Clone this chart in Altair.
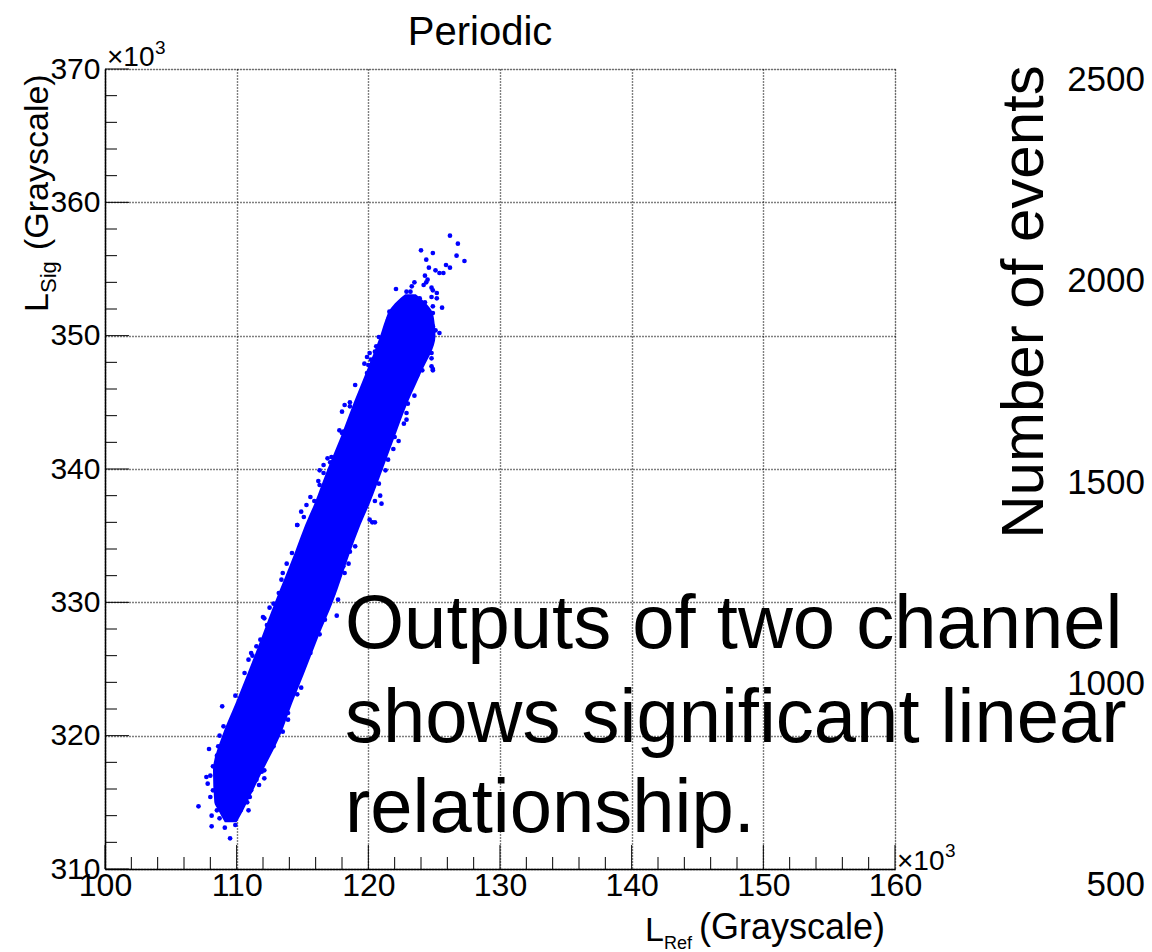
import altair as alt
import pandas as pd

# ---------------- data (values in units of 10^3) ----------------
# dense core of the scatter cloud: for each L_Sig level, the left/right L_Ref edge
band_sig = [313.5, 314.4, 315.0, 317.4, 320.0, 322.4, 324.6, 327.4, 330.0, 333.7, 335.8,
            337.4, 340.0, 342.4, 345.0, 347.2, 350.0, 351.2, 351.9, 352.6, 353.1]
band_left = [109.1, 108.6, 108.3, 108.2, 108.9, 109.9, 110.8, 111.9, 112.9, 114.4, 115.2,
             115.9, 116.9, 117.9, 118.9, 119.8, 120.9, 121.3, 121.6, 122.2, 122.8]
band_right = [110.0, 110.5, 110.8, 112.0, 113.3, 114.2, 115.1, 116.2, 117.3, 118.6, 119.4,
              120.1, 121.1, 122.0, 123.0, 124.0, 125.1, 125.0, 124.8, 124.2, 123.6]

# individual events visible around the edge of the cloud
ref_x = [126.2, 126.8, 127.3, 126.7, 124.0, 124.9, 124.4, 125.9, 126.2, 125.1,
         125.4, 125.7, 124.6, 124.3, 124.5, 123.5, 123.3, 122.1, 122.9, 123.2,
         124.8, 124.9, 125.2, 125.6, 124.9, 121.6, 121.5, 120.8, 125.4, 124.8,
         119.9, 119.7, 119.9, 123.7, 124.4, 124.2, 124.8, 125.2, 123.9, 124.3,
         122.9, 123.4, 122.4, 122.6, 124.5, 124.9, 124.9, 125.1, 124.7, 124.8,
         124.8, 124.9, 120.6, 120.5, 120.1, 120.2, 120.5, 120.0,
         119.0, 118.6, 118.6, 118.1, 118.4, 117.2, 116.6, 116.6, 116.3, 115.3,
         114.9, 114.6, 123.5, 122.9, 122.9, 122.3, 121.9, 120.9, 120.5, 121.0,
         120.1, 120.5, 124.1, 124.9, 118.2, 118.0, 117.8, 118.0, 116.9, 117.1,
         116.3, 116.2, 115.6, 115.9, 115.1, 123.0, 122.7, 122.0, 121.5, 121.3, 120.8,
         114.6, 114.2, 113.4, 113.2, 112.8, 112.1, 112.3, 111.8, 111.1, 111.2,
         110.6, 120.3, 119.0, 118.5, 118.2, 117.7, 117.6, 116.7, 116.3, 115.6,
         114.8, 113.8, 113.5, 112.5, 112.0, 111.5, 110.9, 118.6, 118.1, 117.3,
         116.8, 115.9, 115.4, 115.2,
         108.9, 109.9, 109.0, 108.7, 107.9, 108.5, 108.0, 107.8, 108.2, 107.1,
         108.1, 108.1, 109.1, 109.9, 109.5, 108.7, 114.9, 114.6, 113.8, 113.9,
         113.9, 113.5, 112.8, 112.1, 112.1, 112.1, 111.7, 111.1, 111.0, 110.9,
         110.3, 109.9, 109.9, 109.5, 108.6, 108.2, 107.7, 108.0, 108.5, 110.3,
         110.8, 111.5, 111.9]
sig_y = [357.5, 356.9, 355.6, 356.0, 356.4, 356.2, 355.7, 355.3, 355.1, 354.9,
         354.7, 354.7, 355.1, 354.5, 354.2, 354.0, 353.7, 353.5, 353.3, 353.3,
         353.6, 353.4, 353.2, 352.1, 352.2, 351.8, 351.2, 349.9, 350.2, 347.7,
         348.4, 347.9, 347.2, 347.0, 354.0, 353.8, 352.9, 352.8, 352.8, 352.5,
         352.7, 352.4, 352.3, 352.5, 351.8, 351.7, 350.7, 350.4, 349.3, 348.7,
         348.3, 347.5, 349.2, 348.8, 348.7, 348.2, 347.7, 347.8,
         346.3, 345.0, 344.7, 342.8, 342.4, 340.9, 340.3, 339.7, 338.8, 337.3,
         336.8, 335.8, 345.5, 344.2, 343.7, 342.1, 341.5, 338.0, 337.6, 337.4,
         336.2, 336.0, 347.4, 347.4, 344.8, 344.3, 342.9, 342.7, 340.8, 340.5,
         339.9, 339.1, 337.9, 337.6, 336.4, 344.9, 343.4, 342.4, 340.7, 339.9, 338.9,
         335.8, 333.7, 331.7, 330.7, 329.9, 328.8, 328.3, 327.2, 326.2, 326.0,
         324.7, 336.0, 334.2, 332.9, 332.2, 330.2, 329.0, 328.7, 327.6, 326.2,
         325.1, 332.9, 332.2, 329.6, 328.9, 326.7, 325.7, 333.8, 332.7, 330.6,
         329.4, 327.9, 326.7, 325.7,
         322.2, 321.4, 320.7, 320.0, 319.0, 318.5, 317.0, 316.4, 315.9, 314.7,
         314.0, 313.2, 313.1, 313.3, 312.3, 313.8, 323.6, 323.1, 322.4, 321.7,
         321.2, 320.3, 319.2, 318.2, 317.4, 316.8, 316.3, 315.9, 315.4, 314.4,
         314.6, 313.9, 323.0, 320.8, 319.2, 317.7, 316.9, 315.4, 314.4, 314.4,
         315.0, 316.7, 317.3]

x_major = [100, 110, 120, 130, 140, 150, 160]
x_minor = [102, 104, 106, 108, 112, 114, 116, 118, 122, 124, 126, 128, 132, 134,
           136, 138, 142, 144, 146, 148, 152, 154, 156, 158]
y_major = [310, 320, 330, 340, 350, 360, 370]
y_minor = [312, 314, 316, 318, 322, 324, 326, 328, 332, 334, 336, 338, 342, 344,
           346, 348, 352, 354, 356, 358, 362, 364, 366, 368]

events_ticks = [2500, 2000, 1500, 1000, 500]
text_lines = ["Outputs of two channel", "shows significant linear", "relationship."]

# ---------------- chart ----------------
FONT = "Liberation Sans"
NARROW = "'Liberation Sans Narrow', 'Liberation Sans', sans-serif"
BLUE = "#0000ff"
W, H = 790, 800

xscale = alt.Scale(domain=[100, 160], nice=False, zero=False)
yscale = alt.Scale(domain=[310, 370], nice=False, zero=False)

x_axis = alt.Axis(values=x_major, format="d", ticks=False, grid=True, title=None,
                  gridColor="black", gridDash=[1, 2], gridWidth=1.4, gridOpacity=1,
                  domainColor="black", domainWidth=1.5,
                  labelFont=NARROW, labelFontSize=32, labelColor="black",
                  labelPadding=1, labelFlush=False, labelOverlap=False)
y_axis = alt.Axis(values=y_major, format="d", ticks=False, grid=True, title=None,
                  gridColor="black", gridDash=[1, 2], gridWidth=1.4, gridOpacity=1,
                  domainColor="black", domainWidth=1.5,
                  labelFont=FONT, labelFontSize=30, labelColor="black",
                  labelPadding=5, labelFlush=False, labelOverlap=False)

band_df = pd.DataFrame({"sig": band_sig, "left": band_left, "right": band_right})
pts_df = pd.DataFrame({"ref": ref_x, "sig": sig_y})
one = pd.DataFrame({"a": [0]})

band = alt.Chart(band_df).mark_area(orient="horizontal", color=BLUE, opacity=1,
                                    interpolate="monotone").encode(
    y=alt.Y("sig:Q", scale=yscale, axis=y_axis, title=None),
    x=alt.X("left:Q", scale=xscale, axis=x_axis, title=None),
    x2="right:Q",
)

points = alt.Chart(pts_df).mark_circle(size=22, color=BLUE, opacity=1).encode(
    x=alt.X("ref:Q", scale=xscale, axis=x_axis, title=None),
    y=alt.Y("sig:Q", scale=yscale, axis=y_axis, title=None),
)

def xticks(vals, length):
    return alt.Chart(pd.DataFrame({"ref": vals})).mark_rule(color="black", strokeWidth=1).encode(
        x=alt.X("ref:Q", scale=xscale, axis=x_axis, title=None),
        y=alt.value(H), y2=alt.value(H - length))

def yticks(vals, length):
    return alt.Chart(pd.DataFrame({"sig": vals})).mark_rule(color="black", strokeWidth=1).encode(
        y=alt.Y("sig:Q", scale=yscale, axis=y_axis, title=None),
        x=alt.value(0), x2=alt.value(length))

def label(text, x, y, size, angle=0, align="left", baseline="alphabetic", font=FONT):
    kw = dict(text=text, fontSize=size, font=font, color="black", align=align,
              baseline=baseline)
    if angle:
        kw["angle"] = angle
    return alt.Chart(one).mark_text(**kw).encode(x=alt.value(x), y=alt.value(y))

texts = [
    label("Periodic", 375, -36, 40, align="center", baseline="middle"),
    label("\u00d710", 2, -3, 28),
    label("3", 50, -15, 19),
    label("\u00d710", 792, 801, 28),
    label("3", 840, 788, 19),
    # y title  L_Sig (Grayscale)
    label("L", -57, 243, 34, angle=270),
    label("Sig", -49, 224, 22, angle=270),
    label("(Grayscale)", -57, 181, 34, angle=270),
    # x title  L_Ref (Grayscale)
    label("L", 540, 872, 34),
    label("Ref", 559, 880, 18),
    label("(Grayscale)", 594, 870, 36),
    # right-hand annotation
    label("Number of events", 938, 233, 60, angle=270, align="center"),
    # big overlay text
    label(text_lines[0], 240, 579, 76),
    label(text_lines[1], 240, 673, 76),
    label(text_lines[2], 240, 763, 76),
]

main = alt.layer(band, points,
                 xticks(x_major, 24), xticks(x_minor, 12),
                 yticks(y_major, 24), yticks(y_minor, 12),
                 *texts)

events = alt.Chart(pd.DataFrame({"n": events_ticks})).mark_text(
    font=FONT, fontSize=35, color="black", align="right", baseline="middle").encode(
    y=alt.Y("n:Q", scale=alt.Scale(domain=[539.8, 2527.3], nice=False, zero=False), axis=None),
    x=alt.value(1040),
    text=alt.Text("n:Q", format="d"),
)

chart = alt.layer(main, events).resolve_scale(y="independent").properties(
    width=W, height=H,
    autosize=alt.AutoSizeParams(type="none"),
    padding={"left": 105, "top": 69, "right": 257, "bottom": 83},
).configure_view(stroke="black", strokeWidth=1).configure(background="white")

chart.save("out.html", embed_options={"renderer": "svg", "actions": False})
